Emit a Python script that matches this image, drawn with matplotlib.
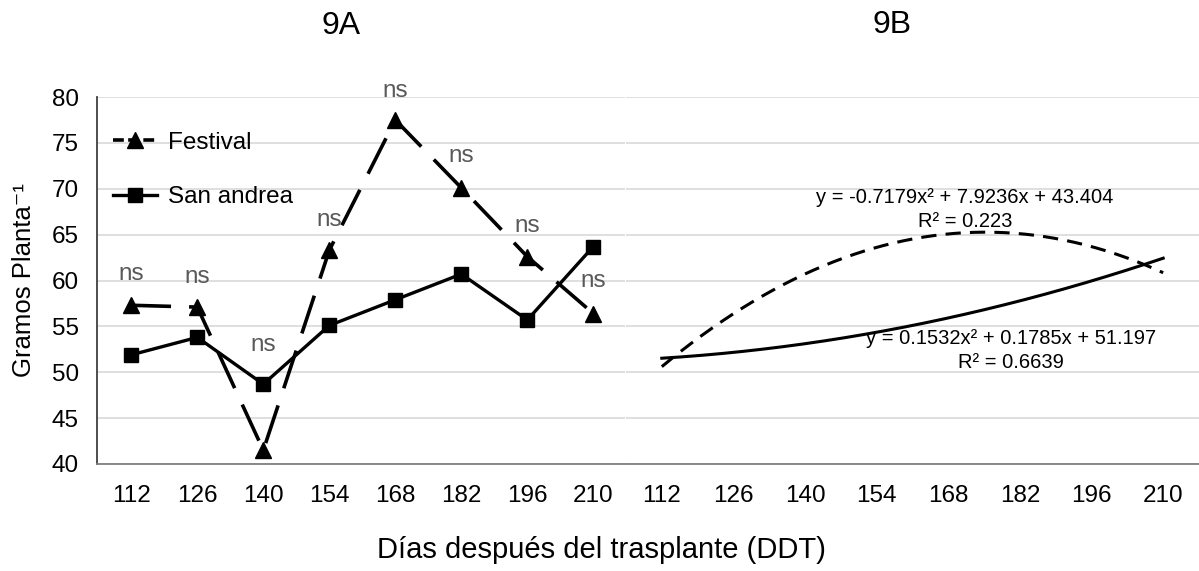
import matplotlib as mpl
import matplotlib.pyplot as plt
import numpy as np
from matplotlib.lines import Line2D

mpl.rcParams['font.family'] = ['Liberation Sans', 'DejaVu Sans']

# days after transplant (categories)
dias = ['112', '126', '140', '154', '168', '182', '196', '210']

# 9A: grams per plant
festival = [57.3, 57.1, 41.5, 63.3, 77.5, 70.1, 62.6, 56.4]
san_andrea = [51.9, 53.8, 48.7, 55.1, 57.9, 60.7, 55.7, 63.7]
ns_label_y = [60.05, 59.7, 52.3, 65.9, 80.05, 72.9, 65.3, 59.3]

# 9B: polynomial trendlines (a*x^2 + b*x + c), x = 1..8
coef_festival = [-0.7179, 7.9236, 43.404]
coef_san_andrea = [0.1532, 0.1785, 51.197]
eq_festival = 'y = -0.7179x² + 7.9236x + 43.404\nR² = 0.223'
eq_san_andrea = 'y = 0.1532x² + 0.1785x + 51.197\nR² = 0.6639'

W, H = 1199, 571
fig = plt.figure(figsize=(W / 100, H / 100), dpi=100)

ax1 = fig.add_axes([97 / W, 1 - 464 / H, (625 - 97) / W, (464 - 97) / H])
ax2 = fig.add_axes([626 / W, 1 - 464 / H, (W - 626) / W, (464 - 97) / H])

grid_col = '#d9d9d9'
x = np.arange(len(dias))

for ax in (ax1, ax2):
    ax.set_ylim(40, 80)
    ax.set_yticks(range(40, 81, 5))
    ax.set_xticks(x)
    ax.set_xticklabels(dias)
    ax.yaxis.grid(True, color=grid_col, lw=1.2)
    ax.set_axisbelow(True)
    ax.tick_params(axis='both', length=0, labelsize=17.5, colors='#000000')
    ax.tick_params(axis='x', pad=15)
    ax.tick_params(axis='y', pad=13)
    for s in ('top', 'right'):
        ax.spines[s].set_visible(False)
    ax.spines['bottom'].set_color('#808080')
    ax.spines['bottom'].set_linewidth(1.3)

ax1.set_xlim(-0.52, 7.48)
ax2.set_xlim(-0.5, 7.5)
ax1.spines['left'].set_color('#404040')
ax1.spines['left'].set_linewidth(1.3)
ax2.spines['left'].set_visible(False)
ax2.tick_params(axis='y', labelleft=False)

# 9A lines
ax1.plot(x, festival, color='black', lw=2.6, dashes=(11, 5),
         marker='^', ms=11, label='Festival')
ax1.plot(x, san_andrea, color='black', lw=2.4, marker='s', ms=9.5,
         label='San andrea')

for xi, yi in zip(x, ns_label_y):
    ax1.text(xi, yi, 'ns', ha='center', va='baseline', fontsize=17.5,
             color='#595959')

handles = [Line2D([], [], color='black', lw=2.6, dashes=(3, 1.2), marker='^', ms=11),
           Line2D([], [], color='black', lw=2.4, marker='s', ms=9.5)]
ax1.legend(handles, ['Festival', 'San andrea'], loc='upper left',
           bbox_to_anchor=(0.03, 0.906), frameon=False, fontsize=17.5,
           handlelength=1.8, handletextpad=0.45, labelspacing=1.35,
           borderpad=0, borderaxespad=0)

# 9B trendlines
xs = np.linspace(0, 7, 200)
ax2.plot(xs, np.polyval(coef_festival, xs + 1), color='black', lw=2.2, dashes=(5, 3))
ax2.plot(xs, np.polyval(coef_san_andrea, xs + 1), color='black', lw=2.2)

ax2.text(4.23, 67.75, eq_festival, ha='center', va='center', fontsize=14.5,
         linespacing=1.3)
ax2.text(4.88, 52.35, eq_san_andrea, ha='center', va='center', fontsize=14.5,
         linespacing=1.3)

# titles and axis labels
fig.text(341 / W, 1 - 26 / H, '9A', ha='center', va='center', fontsize=23)
fig.text(892 / W, 1 - 25 / H, '9B', ha='center', va='center', fontsize=23)
fig.text(601 / W, 1 - 550 / H, 'Días después del trasplante (DDT)',
         ha='center', va='center', fontsize=21)
fig.text(24 / W, 1 - 280 / H, 'Gramos Planta⁻¹', ha='center', va='center',
         rotation=90, fontsize=18.5)

fig.savefig('out.png', dpi=100)
